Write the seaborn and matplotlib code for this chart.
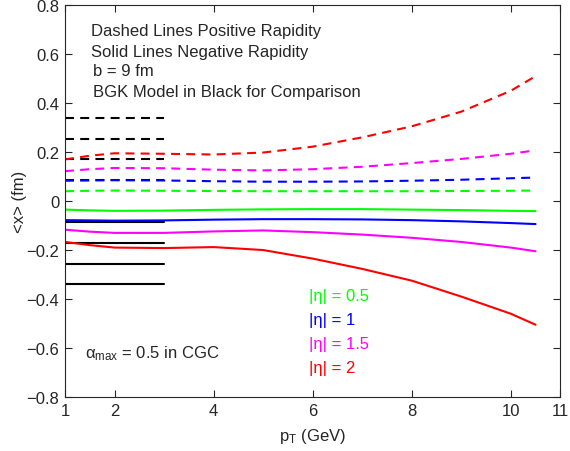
import numpy as np
import pandas as pd
import matplotlib
matplotlib.use('Agg')
import matplotlib.pyplot as plt
import seaborn as sns

# transverse momentum grid (GeV)
pt = [1, 1.5, 2, 3, 4, 5, 6, 7, 8, 9, 10, 10.5]

# positive rapidity (dashed)
pos_eta05 = [0.040, 0.042, 0.043, 0.042, 0.041, 0.040, 0.040, 0.040, 0.040, 0.041, 0.042, 0.043]
pos_eta1 = [0.083, 0.084, 0.085, 0.084, 0.081, 0.079, 0.079, 0.080, 0.083, 0.087, 0.093, 0.096]
pos_eta15 = [0.122, 0.130, 0.135, 0.134, 0.128, 0.125, 0.130, 0.140, 0.155, 0.172, 0.193, 0.207]
pos_eta2 = [0.170, 0.185, 0.195, 0.193, 0.190, 0.198, 0.222, 0.260, 0.305, 0.365, 0.450, 0.510]

# negative rapidity (solid)
neg_eta05 = [-0.035, -0.038, -0.040, -0.039, -0.036, -0.034, -0.033, -0.033, -0.035, -0.037, -0.040, -0.041]
neg_eta1 = [-0.078, -0.079, -0.080, -0.079, -0.076, -0.074, -0.074, -0.075, -0.078, -0.083, -0.090, -0.094]
neg_eta15 = [-0.117, -0.125, -0.130, -0.130, -0.124, -0.120, -0.127, -0.137, -0.150, -0.167, -0.190, -0.205]
neg_eta2 = [-0.167, -0.180, -0.190, -0.192, -0.188, -0.200, -0.235, -0.277, -0.325, -0.390, -0.460, -0.505]

# BGK model reference levels, drawn from pT = 1 to 3
bgk_x = [1, 3]
bgk_levels = [0.085, 0.17, 0.255, 0.34]

labels = ['|η| = 0.5', '|η| = 1', '|η| = 1.5', '|η| = 2']
colors = ['#00ff00', '#0000ff', '#ff00ff', '#ff0000']

xticks = [1, 2, 4, 6, 8, 10, 11]
yticks = [-0.8, -0.6, -0.4, -0.2, 0, 0.2, 0.4, 0.6, 0.8]
ytick_labels = ['\u22120.8', '\u22120.6', '\u22120.4', '\u22120.2', '0', '0.2', '0.4', '0.6', '0.8']

sns.set_style('ticks', {'xtick.direction': 'in', 'ytick.direction': 'in'})
plt.rcParams['font.family'] = ['Liberation Sans', 'DejaVu Sans']
plt.rcParams['mathtext.fontset'] = 'custom'
plt.rcParams['mathtext.rm'] = 'Liberation Sans'
plt.rcParams['mathtext.it'] = 'Liberation Sans'

fig = plt.figure(figsize=(5.7, 4.52), dpi=100)
ax = fig.add_axes([0.114, 0.1195, 0.869, 0.867])

dash = (0, (4.3, 3.0))

# black BGK lines first
for lev in bgk_levels:
    sns.lineplot(x=bgk_x, y=[lev, lev], color='black', lw=1.5, linestyle=dash, ax=ax)
    sns.lineplot(x=bgk_x, y=[-lev, -lev], color='black', lw=1.5, ax=ax)

pos = [pos_eta05, pos_eta1, pos_eta15, pos_eta2]
neg = [neg_eta05, neg_eta1, neg_eta15, neg_eta2]
for p, n, c in zip(pos, neg, colors):
    sns.lineplot(x=pt, y=p, color=c, lw=1.5, linestyle=dash, ax=ax)
    sns.lineplot(x=pt, y=n, color=c, lw=1.5, ax=ax)

ax.set_xlim(1, 11)
ax.set_ylim(-0.8, 0.8)
ax.set_xticks(xticks)
ax.set_xticklabels([str(t) for t in xticks])
ax.set_yticks(yticks)
ax.set_yticklabels(ytick_labels)
ax.tick_params(axis='both', which='both', direction='in', length=5, width=0.8,
               labelsize=12, top=True, right=True, pad=4)
for s in ax.spines.values():
    s.set_visible(True)
    s.set_linewidth(0.8)

ax.set_xlabel(r'p$_{\rm T}$ (GeV)', fontsize=12, labelpad=6)
ax.set_ylabel('<x> (fm)', fontsize=12, labelpad=0)

# annotation block
ax.text(1.52, 0.678, 'Dashed Lines Positive Rapidity', fontsize=12, va='baseline')
ax.text(1.52, 0.592, 'Solid Lines Negative Rapidity', fontsize=12, va='baseline')
ax.text(1.56, 0.514, 'b = 9 fm', fontsize=12, va='baseline')
ax.text(1.56, 0.429, 'BGK Model in Black for Comparison', fontsize=12, va='baseline')

# colour key
key_y = [-0.404, -0.504, -0.600, -0.698]
for lab, c, yy in zip(labels, colors, key_y):
    ax.text(5.93, yy, lab, color=c, fontsize=12, va='baseline')

ax.text(1.4, -0.637, r'$\alpha_{\rm max}$ = 0.5 in CGC', fontsize=12, va='baseline')

fig.savefig('out.png', dpi=100)
